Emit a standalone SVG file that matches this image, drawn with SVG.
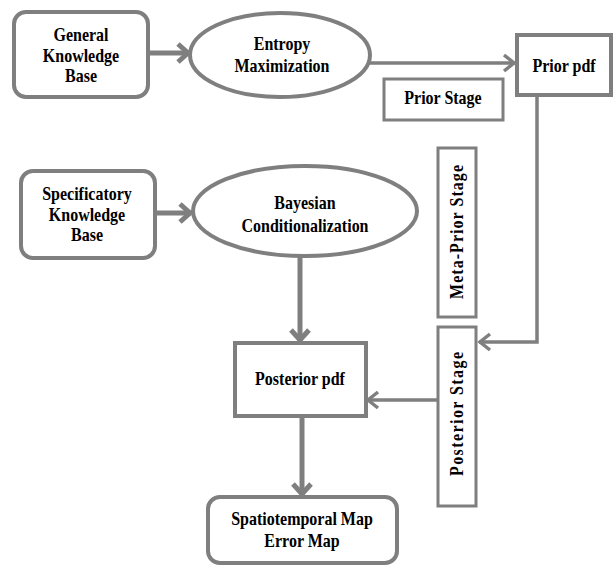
<svg xmlns="http://www.w3.org/2000/svg" width="613" height="565" viewBox="0 0 613 565">
<style>
.box{fill:#fff;stroke:#7f7f7f;stroke-width:4}
.thin{fill:#fff;stroke:#7f7f7f;stroke-width:3}
.t{font-family:"Liberation Serif","Times New Roman",serif;font-weight:bold;font-size:16px;fill:#000;text-anchor:middle}
.c5{fill:none;stroke:#7f7f7f;stroke-width:5}
.c3{fill:none;stroke:#7f7f7f;stroke-width:3.5}
</style>
<defs>
<marker id="ah5" markerUnits="userSpaceOnUse" markerWidth="30" markerHeight="30" refX="0" refY="0" viewBox="-15 -15 30 30" orient="auto" overflow="visible">
<path d="M-11,-9 L-1,0 L-11,9" fill="none" stroke="#7f7f7f" stroke-width="5"/>
</marker>
<marker id="ah3" markerUnits="userSpaceOnUse" markerWidth="30" markerHeight="30" refX="0" refY="0" viewBox="-15 -15 30 30" orient="auto" overflow="visible">
<path d="M-11,-8 L-1,0 L-11,8" fill="none" stroke="#7f7f7f" stroke-width="3.5"/>
</marker>
</defs>
<g id="connectors">
<line class="c5" x1="148" y1="53" x2="189" y2="53" marker-end="url(#ah5)"/>
<line class="c3" x1="370" y1="63" x2="515" y2="63" marker-end="url(#ah3)"/>
<polyline class="c3" points="537,96 537,342 479,342" marker-end="url(#ah3)"/>
<line class="c5" x1="155" y1="213" x2="191" y2="213" marker-end="url(#ah5)"/>
<line class="c5" x1="300" y1="256" x2="300" y2="341" marker-end="url(#ah5)"/>
<line class="c3" x1="438" y1="400" x2="367" y2="400" marker-end="url(#ah3)"/>
<line class="c5" x1="302" y1="417" x2="302" y2="495" marker-end="url(#ah5)"/>
</g>
<g id="general-kb">
<rect class="box" x="14" y="12" width="134" height="85" rx="12"/>
<text class="t" transform="translate(81,41) scale(1,1.2)">General</text>
<text class="t" transform="translate(81,62) scale(1,1.2)">Knowledge</text>
<text class="t" transform="translate(81,82) scale(1,1.2)">Base</text>
</g>
<g id="entropy-max">
<ellipse class="box" cx="280" cy="55" rx="90" ry="42"/>
<text class="t" transform="translate(282,50) scale(1,1.2)">Entropy</text>
<text class="t" transform="translate(282,72) scale(1,1.2)">Maximization</text>
</g>
<g id="prior-pdf">
<rect class="box" x="517" y="35" width="94" height="60"/>
<text class="t" transform="translate(564,72) scale(1,1.2)">Prior pdf</text>
</g>
<g id="prior-stage">
<rect class="thin" x="384" y="79" width="119" height="41"/>
<text class="t" transform="translate(443,104) scale(1,1.2)">Prior Stage</text>
</g>
<g id="specificatory-kb">
<rect class="box" x="21" y="171" width="134" height="87" rx="12"/>
<text class="t" transform="translate(87,200) scale(1,1.2)">Specificatory</text>
<text class="t" transform="translate(87,221) scale(1,1.2)">Knowledge</text>
<text class="t" transform="translate(87,241) scale(1,1.2)">Base</text>
</g>
<g id="bayesian">
<ellipse class="box" cx="305" cy="211" rx="112" ry="45"/>
<text class="t" transform="translate(305,209) scale(1,1.2)">Bayesian</text>
<text class="t" transform="translate(305,232) scale(1,1.2)">Conditionalization</text>
</g>
<g id="meta-prior-stage">
<rect class="thin" x="438" y="148" width="38" height="169"/>
<text class="t" transform="translate(463,232) rotate(-90) scale(1,1.2)" textLength="134" lengthAdjust="spacing">Meta-Prior  Stage</text>
</g>
<g id="posterior-stage">
<rect class="thin" x="438" y="327" width="38" height="179"/>
<text class="t" transform="translate(463,414) rotate(-90) scale(1,1.2)" textLength="124" lengthAdjust="spacing">Posterior  Stage</text>
</g>
<g id="posterior-pdf">
<rect class="box" x="235" y="343" width="131" height="73"/>
<text class="t" transform="translate(300,385) scale(1,1.2)">Posterior pdf</text>
</g>
<g id="spatiotemporal-map">
<rect class="box" x="208" y="497" width="189" height="66" rx="12"/>
<text class="t" transform="translate(302,525) scale(1,1.2)">Spatiotemporal Map</text>
<text class="t" transform="translate(302,547) scale(1,1.2)">Error Map</text>
</g>
</svg>
